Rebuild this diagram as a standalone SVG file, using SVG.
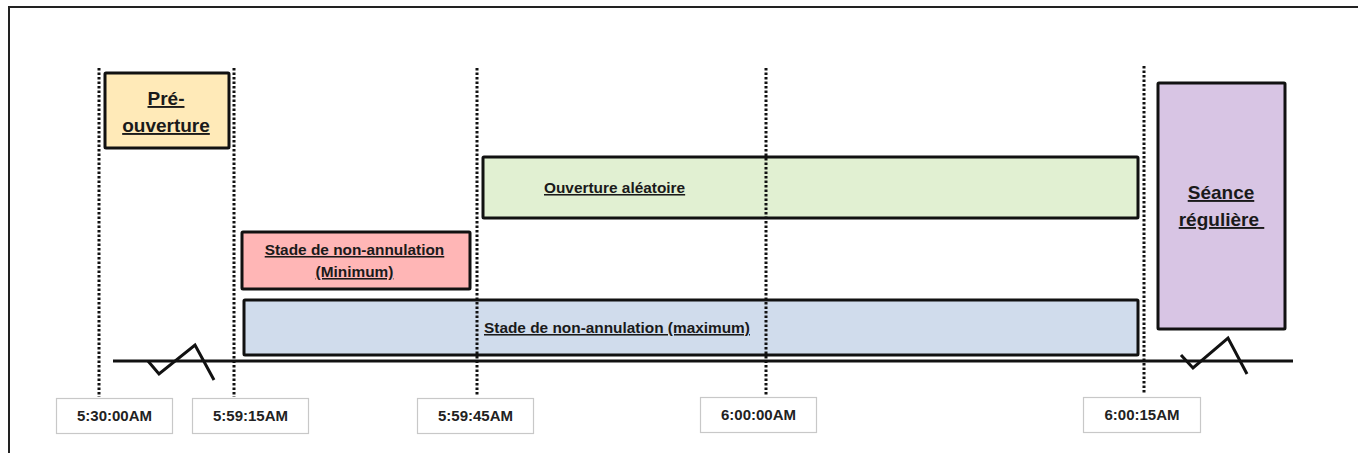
<svg xmlns="http://www.w3.org/2000/svg" width="1358" height="453" viewBox="0 0 1358 453">
<style>
.box{stroke:#111;stroke-width:3;}
.dot{stroke:#111;stroke-width:3;stroke-dasharray:2.5 2;fill:none;}
.ln{stroke:#111;stroke-width:3;fill:none;}
.tbox{fill:#fff;stroke:#c8c8c8;stroke-width:1.2;}
text{font-family:"Liberation Sans",Arial,sans-serif;font-weight:bold;fill:#1a1a1a;}
.u{text-decoration:underline;}
.t15{font-size:15.4px;}
.t19{font-size:19px;}
.tl{font-size:15px;fill:#222;}
</style>
<rect width="1358" height="453" fill="#fff"/>
<path d="M9,453 V7 H1358" fill="none" stroke="#222" stroke-width="2"/>
<g id="pre-ouverture">
<rect class="box" x="105" y="73" width="124" height="75" rx="1" fill="#ffeab8"/>
<text class="t19 u" x="166" y="105" text-anchor="middle">Pré-</text>
<text class="t19 u" x="166" y="132" text-anchor="middle">ouverture</text>
</g>
<g id="ouverture-aleatoire">
<rect class="box" x="483" y="157" width="655" height="61" rx="1" fill="#e1f0d2"/>
<text class="t15 u" x="544" y="193">Ouverture aléatoire</text>
</g>
<g id="stade-minimum">
<rect class="box" x="242" y="232" width="228" height="57" rx="1" fill="#ffb6b6"/>
<text class="t15 u" x="354.5" y="255" text-anchor="middle">Stade de non-annulation</text>
<text class="t15 u" x="354.5" y="277" text-anchor="middle">(Minimum)</text>
</g>
<g id="stade-maximum">
<rect class="box" x="244" y="300" width="894" height="55" rx="1" fill="#d0dcec"/>
<text class="t15 u" x="484" y="333">Stade de non-annulation (maximum)</text>
</g>
<g id="seance-reguliere">
<rect class="box" x="1158" y="83" width="127" height="246" rx="1" fill="#d8c5e4"/>
<text class="t19 u" x="1221" y="199" text-anchor="middle">Séance</text>
<text class="t19 u" x="1221.5" y="226" text-anchor="middle" xml:space="preserve">régulière </text>
</g>
<g id="t-0530">
<rect class="tbox" x="56.5" y="398.5" width="116" height="35"/>
<text class="tl" x="114.5" y="421" text-anchor="middle">5:30:00AM</text>
</g>
<g id="t-055915">
<rect class="tbox" x="192.5" y="398.5" width="116" height="35"/>
<text class="tl" x="250.5" y="421" text-anchor="middle">5:59:15AM</text>
</g>
<g id="t-055945">
<rect class="tbox" x="417.5" y="398.5" width="116" height="35"/>
<text class="tl" x="475.5" y="421" text-anchor="middle">5:59:45AM</text>
</g>
<g id="t-0600">
<rect class="tbox" x="700.5" y="397.5" width="116" height="35"/>
<text class="tl" x="758.5" y="420" text-anchor="middle">6:00:00AM</text>
</g>
<g id="t-060015">
<rect class="tbox" x="1083.5" y="397.5" width="117" height="35"/>
<text class="tl" x="1142" y="420" text-anchor="middle">6:00:15AM</text>
</g>
<g id="connectors">
<line class="dot" x1="99" y1="68" x2="99" y2="397"/>
<line class="dot" x1="234" y1="68" x2="234" y2="397"/>
<line class="dot" x1="477" y1="68" x2="477" y2="395"/>
<line class="dot" x1="766" y1="68" x2="766" y2="396"/>
<line class="dot" x1="1144" y1="66" x2="1144" y2="394"/>
<line class="ln" x1="113" y1="361" x2="1293" y2="361"/>
<polyline class="ln" points="148,361 159,374 195,345 214,380"/>
<polyline class="ln" points="1181,355 1193,368 1228,338 1247,374"/>
</g>
</svg>
